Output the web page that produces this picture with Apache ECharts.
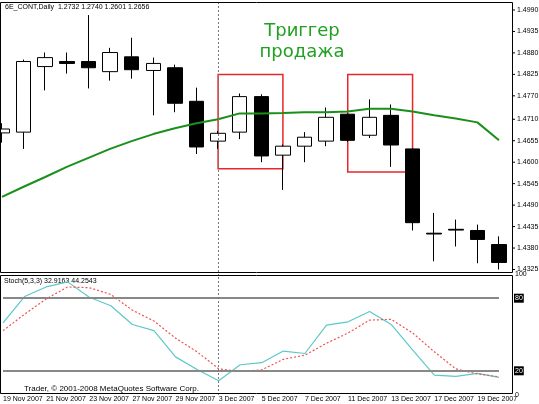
<!DOCTYPE html>
<html><head><meta charset="utf-8">
<script src="https://cdn.jsdelivr.net/npm/echarts@6/dist/echarts.min.js"></script>
<style>html,body{margin:0;padding:0;background:#fff}#c{width:539px;height:404px}</style>
</head><body><div id="c"></div>
<script>
const dates = ['19 Nov 2007','20 Nov 2007','21 Nov 2007','22 Nov 2007','23 Nov 2007','26 Nov 2007','27 Nov 2007','28 Nov 2007','29 Nov 2007','30 Nov 2007','3 Dec 2007','4 Dec 2007','5 Dec 2007','6 Dec 2007','7 Dec 2007','10 Dec 2007','11 Dec 2007','12 Dec 2007','13 Dec 2007','14 Dec 2007','17 Dec 2007','18 Dec 2007','19 Dec 2007','20 Dec 2007'];
// [open, close, low, high]
const ohlc = [
[1.4675,1.4685,1.4650,1.4700],
[1.4677,1.4858,1.4634,1.4863],
[1.4845,1.4868,1.4784,1.4881],
[1.4858,1.4853,1.4827,1.4881],
[1.4858,1.4842,1.4789,1.4977],
[1.4832,1.4881,1.4809,1.4893],
[1.4870,1.4837,1.4814,1.4919],
[1.4835,1.4853,1.4720,1.4868],
[1.4842,1.4751,1.4728,1.4850],
[1.4756,1.4639,1.4621,1.4791],
[1.4654,1.4674,1.4634,1.4680],
[1.4677,1.4768,1.4659,1.4776],
[1.4768,1.4616,1.4600,1.4774],
[1.4618,1.4641,1.4529,1.4645],
[1.4641,1.4664,1.4600,1.4677],
[1.4654,1.4715,1.4641,1.4740],
[1.4723,1.4656,1.4652,1.4725],
[1.4669,1.4715,1.4662,1.4761],
[1.4720,1.4644,1.4588,1.4748],
[1.4634,1.4445,1.4425,1.4636],
[1.4418,1.4416,1.4346,1.4470],
[1.4428,1.4426,1.4384,1.4453],
[1.4425,1.4402,1.4341,1.4440],
[1.4389,1.4343,1.4325,1.4410]];
const maPx = [198,188,178,168,159,150,142,135,129,124,120,114,114,113.5,113,113,112,109.5,109.5,112,116,119,123,141];
const ma = maPx.map(y => +(1.4990 - (y-10)*0.0002546).toFixed(4));
const stochK = [59.7,81.4,89.3,93.5,80.8,73.8,58.3,53.2,31.5,21,11.7,25,26.7,36.3,34.3,57.7,60.5,69,58.3,37.1,16.5,15.4,17.9,14.6];
const stochD = [53.2,66.7,79.4,89.3,88.7,83.1,70.1,61.1,47,35.7,21.6,19.4,20.8,29.5,32.9,42.8,51.2,61.9,62.5,51.2,35.7,21.6,17.4,15.1];
const priceTicks = ['1.4990','1.4935','1.4880','1.4825','1.4770','1.4710','1.4655','1.4600','1.4545','1.4490','1.4435','1.4380','1.4325'];
const boxes = [['3 Dec 2007','6 Dec 2007',1.4825,1.4583],['11 Dec 2007','14 Dec 2007',1.4825,1.4575]];

const F = 'Liberation Sans';
const chart = echarts.init(document.getElementById('c'));
const gl = 2, gw = 497;
const vline = {symbol:'none', silent:true, label:{show:false}, lineStyle:{color:'#777',type:[2,2],width:1}, data:[{xAxis:'3 Dec 2007'}]};
const xa = (gi, lab) => ({type:'category',gridIndex:gi,data:dates,boundaryGap:false,axisLine:{show:false},axisTick:{show:false},splitLine:{show:false},
  axisLabel: lab ? {show:true,interval:1,showMinLabel:true,hideOverlap:false,align:'left',verticalAlign:'top',margin:1,fontFamily:F,fontSize:7,color:'#000'} : {show:false}});
chart.setOption({
  animation:false,
  grid:[{left:gl,top:3,width:gw,height:269},{left:gl,top:274,width:gw,height:121}],
  xAxis:[xa(0,false), xa(1,true)],
  yAxis:[
    {type:'value',gridIndex:0,min:1.43186,max:1.50079,show:false,scale:true},
    {type:'value',gridIndex:1,min:0,max:100,show:false}
  ],
  series:[
    {type:'candlestick',xAxisIndex:0,yAxisIndex:0,data:ohlc,barWidth:15,clip:false,
     itemStyle:{color:'#fff',color0:'#000',borderColor:'#000',borderColor0:'#000',borderWidth:1},
     markLine:vline,
     markArea:{silent:true,itemStyle:{color:'rgba(0,0,0,0)',borderColor:'#e8262a',borderWidth:1.5},
       data:boxes.map(b=>[{xAxis:b[0],yAxis:b[2]},{xAxis:b[1],yAxis:b[3]}])}},
    {type:'line',xAxisIndex:0,yAxisIndex:0,data:ma,symbol:'none',lineStyle:{color:'#1a8f1a',width:2}},
    {type:'line',xAxisIndex:1,yAxisIndex:1,data:stochK,symbol:'none',lineStyle:{color:'#5cc8c8',width:1.2},
     markLine:{symbol:'none',silent:true,label:{show:false},lineStyle:{color:'#888',type:'solid',width:2},data:[{yAxis:80},{yAxis:20}]}},
    {type:'line',xAxisIndex:1,yAxisIndex:1,data:stochD,symbol:'none',lineStyle:{color:'#f05050',width:1.2,type:[2,2]},markLine:vline}
  ]
});
const g = [];
g.push({type:'rect',shape:{x:0.5,y:2.5,width:512,height:270},style:{fill:'none',stroke:'#000',lineWidth:1},z:10});
g.push({type:'rect',shape:{x:0.5,y:275.5,width:512,height:118},style:{fill:'none',stroke:'#000',lineWidth:1},z:10});
g.push({type:'rect',shape:{x:-5,y:0,width:5.5,height:404},style:{fill:'#fff'},z:9});
priceTicks.forEach(t=>{
  const y = chart.convertToPixel({yAxisIndex:0}, +t);
  g.push({type:'line',shape:{x1:512,y1:y,x2:515,y2:y},style:{stroke:'#000'}});
  g.push({type:'text',x:517,y:y,style:{text:t,fontFamily:F,fontSize:7,fill:'#000',verticalAlign:'middle'}});
});
[[100,false],[80,true],[20,true],[0,false]].forEach(([v,box])=>{
  const y = chart.convertToPixel({yAxisIndex:1}, v);
  g.push({type:'text',x:514,y:y,z:20,style:{text:String(v),fontFamily:F,fontSize:7,fill:box?'#fff':'#000',backgroundColor:box?'#000':'transparent',padding:[1,1],verticalAlign:'middle'}});
});
g.push({type:'text',x:5,y:4,style:{text:'6E_CONT,Daily  1.2732 1.2740 1.2601 1.2656',fontFamily:F,fontSize:7,fill:'#000'}});
g.push({type:'text',x:4,y:278,style:{text:'Stoch(5,3,3) 32.9163 44.2543',fontFamily:F,fontSize:7,fill:'#000'}});
g.push({type:'text',x:24,y:385,style:{text:'Trader, © 2001-2008 MetaQuotes Software Corp.',fontFamily:F,fontSize:8,fill:'#000'}});
g.push({type:'text',x:302,y:21,style:{text:'Триггер\nпродажа',fontFamily:'DejaVu Sans',fontSize:18,lineHeight:21,fill:'#22a022',align:'center'}});
chart.setOption({graphic:g});
</script></body></html>
